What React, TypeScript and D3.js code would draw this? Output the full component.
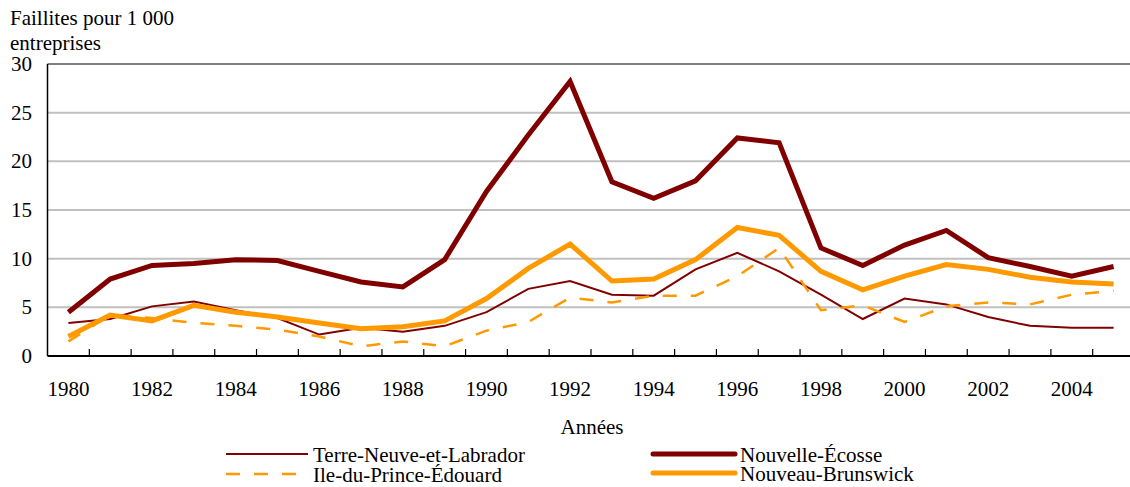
import React from "react";
import * as d3 from "d3";

const years = [1980, 1981, 1982, 1983, 1984, 1985, 1986, 1987, 1988, 1989, 1990, 1991, 1992,
  1993, 1994, 1995, 1996, 1997, 1998, 1999, 2000, 2001, 2002, 2003, 2004, 2005];

const terreNeuve = [3.4, 3.8, 5.1, 5.6, 4.7, 3.9, 2.2, 2.9, 2.5, 3.1, 4.5, 6.9, 7.7,
  6.3, 6.2, 8.9, 10.6, 8.7, 6.3, 3.8, 5.9, 5.3, 4.0, 3.1, 2.9, 2.9];
const ilePE = [1.5, 4.2, 3.9, 3.4, 3.1, 2.7, 2.0, 1.0, 1.5, 1.0, 2.6, 3.5, 6.0,
  5.5, 6.2, 6.2, 8.2, 11.1, 4.7, 5.2, 3.5, 5.1, 5.5, 5.3, 6.3, 6.7];
const nouvelleEcosse = [4.5, 7.9, 9.3, 9.5, 9.9, 9.8, 8.7, 7.6, 7.1, 9.9, 16.9, 22.7, 28.2,
  17.9, 16.2, 18.0, 22.4, 21.9, 11.1, 9.3, 11.4, 12.9, 10.1, 9.2, 8.2, 9.2];
const nouveauBrunswick = [2.0, 4.2, 3.6, 5.2, 4.5, 4.0, 3.4, 2.8, 3.0, 3.6, 5.9, 9.0, 11.5,
  7.7, 7.9, 9.9, 13.2, 12.4, 8.7, 6.8, 8.2, 9.4, 8.9, 8.1, 7.6, 7.4];

const yTicks = [0, 5, 10, 15, 20, 25, 30];
const yTitle = ["Faillites pour 1 000", "entreprises"];
const xTitle = "Années";

const series = [
  { name: "Terre-Neuve-et-Labrador", values: terreNeuve, color: "#800000", width: 2, dash: null },
  { name: "Ile-du-Prince-Édouard", values: ilePE, color: "#FF9900", width: 2.5, dash: "14,14" },
  { name: "Nouvelle-Écosse", values: nouvelleEcosse, color: "#800000", width: 5, dash: null },
  { name: "Nouveau-Brunswick", values: nouveauBrunswick, color: "#FF9900", width: 5, dash: null },
];

const W = 1130, H = 487;

export default function App() {
  const x = d3.scaleBand<number>().domain(years).range([47.5, 1134.5]);
  const y = d3.scaleLinear().domain([0, 30]).range([356, 64]);
  const cx = (yr: number) => (x(yr) as number) + x.bandwidth() / 2;

  const line = d3.line<number>()
    .x((_, i) => cx(years[i]))
    .y(d => y(d));

  const legendPos = [
    { lx: 226, ly: 454 },
    { lx: 226, ly: 474 },
    { lx: 653, ly: 454 },
    { lx: 653, ly: 473 },
  ];

  return (
    <svg width={W} height={H}
      style={{ position: "absolute", left: 0, top: 0, background: "#fff",
        fontFamily: "\"Liberation Serif\", \"Times New Roman\", \"DejaVu Serif\", serif", fontSize: 21 }}>
      {/* grid */}
      {yTicks.filter(t => t > 0).map(t => (
        <line key={t} x1={47.5} x2={1134.5} y1={y(t)} y2={y(t)}
          stroke={t === 30 ? "#808080" : "#C0C0C0"} strokeWidth={2} />
      ))}
      {/* y labels */}
      {yTicks.map(t => (
        <text key={t} x={32} y={y(t) + 7} textAnchor="end" fill="#000">{t}</text>
      ))}
      {/* axes */}
      <line x1={47.5} x2={47.5} y1={y(30)} y2={y(0)} stroke="#000" strokeWidth={1.5} />
      <line x1={47.5} x2={1134.5} y1={y(0)} y2={y(0)} stroke="#000" strokeWidth={2} />
      {years.slice(1).map(yr => (
        <line key={yr} x1={x(yr)} x2={x(yr)} y1={y(0)} y2={y(0) - 7} stroke="#000" strokeWidth={1.2} />
      ))}
      {years.filter((_, i) => i % 2 === 0 && i < 25).map(yr => (
        <text key={yr} x={cx(yr)} y={396} textAnchor="middle" fill="#000">{yr}</text>
      ))}
      {/* titles */}
      <text x={10} y={25} fill="#000">{yTitle[0]}</text>
      <text x={10} y={50} fill="#000">{yTitle[1]}</text>
      <text x={592} y={434} textAnchor="middle" fill="#000">{xTitle}</text>
      {/* series */}
      {series.map(s => (
        <path key={s.name} d={line(s.values) || ""} fill="none" stroke={s.color}
          strokeWidth={s.width} strokeDasharray={s.dash || undefined} />
      ))}
      {/* legend */}
      {series.map((s, i) => {
        const p = legendPos[i];
        return (
          <g key={s.name}>
            <line x1={p.lx} x2={p.lx + 82} y1={p.ly} y2={p.ly} stroke={s.color}
              strokeWidth={s.width} strokeDasharray={s.dash || undefined}
              strokeLinecap={s.width > 3 ? "round" : "butt"} />
            <text x={p.lx + 87} y={p.ly + 8} fill="#000">{s.name}</text>
          </g>
        );
      })}
    </svg>
  );
}
